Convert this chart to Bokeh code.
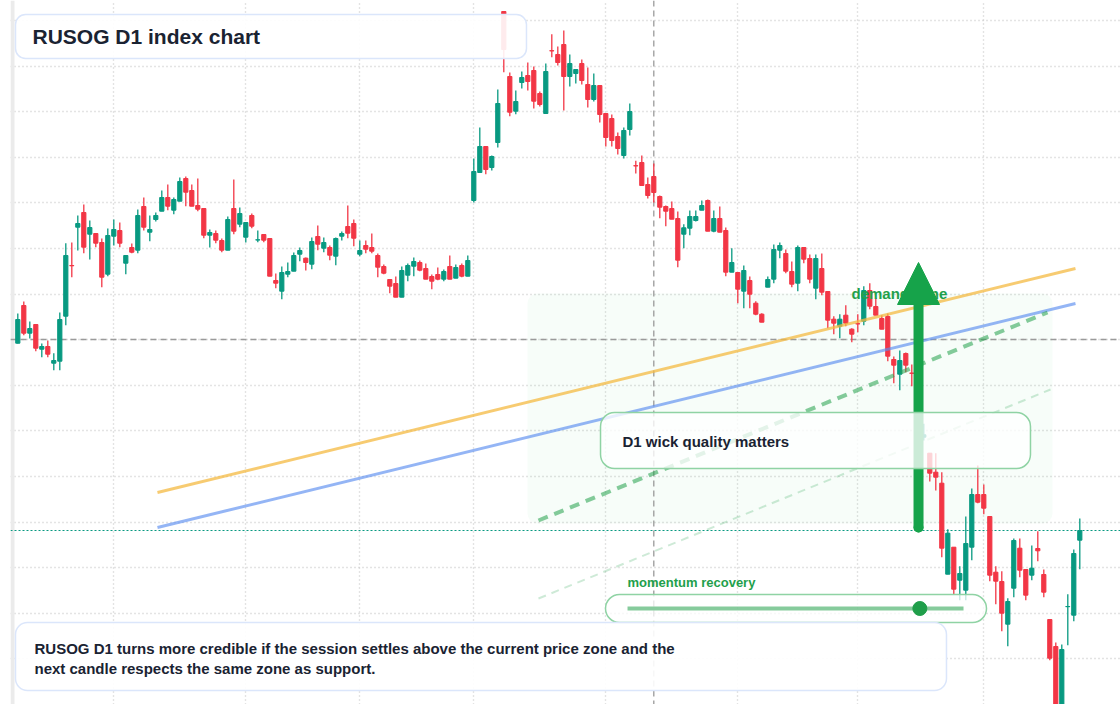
import numpy as np
from bokeh.plotting import figure
from bokeh.models import (ColumnDataSource, Range1d, FixedTicker, SingleIntervalTicker,
                          BoxAnnotation, Span, Label, Arrow, NormalHead)
from bokeh.embed import file_html
from bokeh.resources import INLINE

# ---------------- data (index points, daily candles) ----------------
opens = [361.3, 399, 371.3, 380, 355.3, 358, 341.3, 343.3, 388.3, 439,
         477.3, 492, 470.3, 471, 462, 430.3, 468.3, 474, 441.3, 457,
         454.3, 498, 472.3, 485, 493.3, 507, 494.3, 503.3, 526, 514,
         499, 496, 469.3, 471, 464, 454.3, 496, 480.3, 467.3, 489,
         464.5, 470, 466, 424, 413.3, 430.3, 433.3, 450.3, 446.3, 440.3,
         468, 456.3, 457, 448.3, 468.3, 478, 481, 450.3, 459, 457,
         449, 438, 425, 421, 407.3, 429.3, 438.3, 442, 436, 428,
         430, 425.3, 438, 426.3, 439, 428.3, 504, 532, 558, 537,
         562, 693, 628, 593.3, 622, 629, 634, 611, 591, 653.8,
         650, 660, 628, 631, 641, 620, 605, 619, 591, 586,
         568, 549, 575, 538.8, 542, 520, 528, 508, 498, 496,
         486, 470.3, 476.3, 484, 494.3, 504, 473.3, 486, 474, 432.3,
         432, 413.3, 424, 401.3, 390.3, 417.3, 425.3, 454.3, 451, 433,
         421.3, 457, 446, 416.3, 436, 413, 385.3, 378.3, 389.3, 375.3,
         380.8, 383.3, 414, 398, 386, 388, 345, 330.3, 351, 331.4,
         331, 267.3, 251.3, 232.3, 221.3, 130.3, 157.3, 124.3, 114.3, 157.3,
         210, 210, 188, 132.3, 123, 80.3, 116.3, 156.3, 135, 129.3,
         156, 130, 85, 58, -12, 97.8, 89.3, 164.3]
highs = [391, 403, 383, 380, 361, 364, 351.3, 392, 461.3, 462,
         489, 500, 484, 471, 466, 476, 485, 482, 449, 461,
         495, 507, 489, 492, 514, 520, 507, 527, 528, 520,
         526, 496, 475, 474, 466, 488, 525, 497, 482, 491,
         474, 470, 466, 431, 438, 442, 452, 457, 447, 467,
         479, 467, 459, 467, 473, 499, 485, 464, 464, 471,
         451, 440, 425, 428, 438, 441, 447, 444, 441, 430,
         437, 435, 449, 440, 441, 449, 546, 577, 558, 549,
         615, 693, 632, 614, 633, 642, 638, 613, 641, 670.3,
         658, 674, 650, 635, 645, 637, 631, 619, 591, 590,
         572, 577, 601, 543.7, 549, 527, 541, 509, 499, 503,
         493, 480.3, 494, 494, 504, 505, 494, 498, 477, 456.3,
         432, 439, 428, 403.3, 391.3, 428, 460, 462, 455, 443,
         459, 457, 450, 450, 451, 413, 388.3, 390.3, 399.3, 376.3,
         390.3, 418.3, 421.3, 406.3, 389.3, 391, 348, 354, 352, 340,
         336, 280.7, 251.3, 251.3, 232.3, 175.3, 157.3, 138.3, 188, 216,
         239, 220, 188, 138.3, 133.3, 106.3, 166, 166, 135, 159,
         173.3, 135, 85, 62, 60, 110.3, 155, 186]
lows = [361, 369.3, 366, 353.3, 347.3, 347.3, 334.3, 334.3, 379.3, 427.3,
        454, 451.3, 445, 457.3, 417.3, 428.3, 459, 457.3, 430.3, 451.3,
        451.3, 474, 463.3, 483, 493.3, 494.3, 490.3, 503.3, 498.3, 498.3,
        493.3, 466.3, 457, 461.3, 452.3, 454.3, 470.3, 477.3, 462, 476.3,
        462.3, 462.3, 428.3, 416.3, 405.3, 427.3, 433.3, 443.3, 434, 435.3,
        454.3, 452.3, 444.3, 439.3, 464, 466.3, 458.3, 448.3, 451.3, 451.3,
        427.3, 430.3, 411.3, 407.3, 407.3, 423.3, 428.3, 433.3, 425.3, 415.3,
        424.3, 423.3, 425.3, 426.3, 427.3, 428.3, 502, 532, 530.3, 534,
        557, 632.3, 588.3, 590.3, 616, 614, 596, 598, 591, 647.3,
        639, 594, 618, 621, 620, 597, 603, 582, 558, 558,
        550, 546, 569, 531, 519, 506, 502, 486.3, 478.3, 485.3,
        437.3, 456.3, 469.3, 483, 494.3, 473.3, 472.3, 472.3, 428.3, 432.3,
        401.3, 396.3, 396.3, 389.3, 382.3, 417.3, 421.3, 446.3, 431.3, 417.3,
        413.3, 441.3, 421.3, 405.3, 409.3, 376.3, 370.3, 366.3, 378.3, 362.3,
        372.3, 379.3, 395.3, 389.3, 375.3, 343.3, 321.3, 314.3, 332.3, 318.3,
        271, 264, 223, 214, 147.3, 130.3, 110.3, 104.3, 104.3, 144.3,
        201.3, 190.3, 123.3, 100.3, 73.3, 58.3, 107.3, 127.3, 104.3, 124.3,
        143.3, 107.3, 44.3, -26, -20, 59.3, 83.3, 135.3]
closes = [385, 371.3, 376, 356.3, 358, 350.3, 344, 385, 449, 438.7,
          481, 457.3, 477, 461.3, 427.3, 469, 475, 461.3, 449, 452.3,
          489, 477.3, 475, 489, 507, 498.3, 505, 523, 512.3, 498.3,
          495.3, 469.3, 472, 464.3, 454.3, 485, 473.3, 491, 482, 478.3,
          464.7, 464.3, 428.3, 421.3, 432, 433, 449, 454, 442, 463,
          460.3, 462, 449.3, 466, 471, 471.3, 466.3, 454, 455.3, 453.3,
          437.3, 431.3, 418.3, 407.3, 434, 439, 443, 434.3, 425.3, 423.3,
          425.3, 433, 425.3, 437, 428.3, 444, 533, 558, 535, 548,
          601, 655, 592.3, 603, 627, 623, 603.3, 600, 633, 653.6,
          642, 628, 641, 635, 624, 605, 619, 590, 567, 564,
          556, 574, 593, 538.6, 519, 509, 512, 497.3, 493.3, 485.3,
          444.3, 476.7, 488, 488, 499, 473.3, 486, 472.3, 432.3, 442,
          415.3, 434, 410.3, 390.3, 382.3, 425, 455, 459, 433.3, 420.3,
          457, 445.3, 425.3, 446, 412.3, 384.3, 381.3, 385.3, 381.3, 370.3,
          380.6, 414, 398.3, 389.3, 375.3, 348.3, 339.3, 344, 339.3, 331.2,
          276, 269.7, 231.3, 227.3, 156.3, 171.3, 115.3, 131, 161, 210,
          202.3, 196.3, 129.3, 123.3, 91.3, 103, 164, 134.3, 109.3, 136.3,
          153.7, 112.3, 46.3, -16, 55, 98, 151, 174]

# first trading session of each month (bar index) -> vertical grid
month_start_idx = [16, 38, 57, 76, 98, 120, 140, 161]
price_grid_step = 45.6

# drawn objects (bar index, price)
trend_upper = ([23.28, 176.28], [212, 436])
trend_lower = ([23.28, 176.28], [177, 401])
trend_support = ([86.78, 171.62], [184, 392])
trend_faint = ([86.78, 172.12], [106, 315])
crosshair_bar, crosshair_price = 106, 365
demand_zone = dict(left=84.95, right=172.45, bottom=181, top=411)
arrow_bar, arrow_from, arrow_head_base, arrow_to = 150.12, 177, 404, 442
momentum_score = 0.87

GREEN, RED = "#089981", "#f23645"
TEXT = "#1a2332"
ACCENT = "#1f9e4a"
ARROW = "#16a34a"

n = len(opens)
o = np.array(opens, float); c = np.array(closes, float)
hi = np.array(highs, float); lo = np.array(lows, float)
col = [GREEN if cc >= oo else RED for oo, cc in zip(o, c)]
src = ColumnDataSource(dict(x=np.arange(n), top=np.maximum(o, c), bottom=np.minimum(o, c),
                            high=hi, low=lo, color=col))

p = figure(width=1120, height=704, x_range=Range1d(-1.2167, 183.783), y_range=Range1d(0, 704),
           x_axis_location=None, y_axis_location=None, toolbar_location=None,
           output_backend="svg", min_border=0, min_border_left=10,
           background_fill_color="white", border_fill_color="white")
p.outline_line_color = None

p.xgrid.ticker = FixedTicker(ticks=month_start_idx)
p.ygrid.ticker = SingleIntervalTicker(interval=price_grid_step)
for g in (p.xgrid, p.ygrid):
    g.grid_line_color = "#c8c8c8"
    g.grid_line_dash = "1 3"
    g.grid_line_width = 1.4

# left rail
p.add_layout(BoxAnnotation(left=-1.2167, right=-0.55, fill_color="#ebebeb", fill_alpha=1,
                           line_color=None, level="underlay"))
# demand zone
p.add_layout(BoxAnnotation(**demand_zone, fill_color="#22c55e", fill_alpha=0.035,
                           line_color=None, level="underlay", border_radius=10))
# crosshair + last price
p.add_layout(Span(location=crosshair_bar, dimension="height", line_color="#9a9a9a",
                  line_dash="6 4", line_width=1.3, level="underlay"))
p.add_layout(Span(location=crosshair_price, dimension="width", line_color="#9a9a9a",
                  line_dash="6 4", line_width=1.3, level="underlay"))
p.add_layout(Span(location=closes[-1], dimension="width", line_color=GREEN,
                  line_dash="2 2", line_width=1.2, level="underlay"))

# candles
p.segment(x0="x", y0="low", x1="x", y1="high", line_color="color", line_width=1.3, source=src)
p.vbar(x="x", width=0.7, top="top", bottom="bottom", fill_color="color", line_color="color",
       line_width=1, source=src)

# trend lines
p.line(*trend_upper, line_color="#f4b942", line_alpha=0.75, line_width=3)
p.line(*trend_lower, line_color="#5b8def", line_alpha=0.65, line_width=3)
p.line(*trend_support, line_color="#22a04b", line_alpha=0.55, line_width=4, line_dash="10 7")
p.line(*trend_faint, line_color="#22a04b", line_alpha=0.22, line_width=2, line_dash="8 6")

# rounded foot of the arrow shaft
p.scatter([arrow_bar], [arrow_from], size=10, fill_color=ARROW, line_color=None)

FONT = "Liberation Sans"
p.add_layout(Label(x=138.95, y=411, text="demand zone", text_font=FONT, text_font_size="15px",
                   text_font_style="bold", text_color="#22a04b", text_baseline="middle"))

# arrow: shaft + head
p.add_layout(Arrow(start=None, end=None, x_start=arrow_bar, y_start=arrow_from, x_end=arrow_bar,
                   y_end=arrow_head_base + 4, line_color=ARROW, line_width=10, line_cap="round"))
p.add_layout(Arrow(end=NormalHead(size=42, fill_color=ARROW, line_color=ARROW, line_width=1),
                   x_start=arrow_bar, y_start=arrow_head_base, x_end=arrow_bar, y_end=arrow_to,
                   line_color=ARROW, line_alpha=0, line_width=1))

# title box
p.add_layout(BoxAnnotation(left=-0.383, right=84.78, bottom=646, top=690, fill_color="white",
                           fill_alpha=0.9, line_color="#dbe6fb", line_alpha=1, line_width=1.5,
                           border_radius=10))
p.add_layout(Label(x=2.45, y=668, text="RUSOG D1 index chart", text_font=FONT, text_font_size="21px",
                   text_font_style="bold", text_color=TEXT, text_baseline="middle"))

# D1 note
p.add_layout(BoxAnnotation(left=97.12, right=168.78, bottom=236, top=292, fill_color="white",
                           fill_alpha=0.78, line_color="#8fd3a4", line_alpha=1, line_width=1.5,
                           border_radius=14))
p.add_layout(Label(x=100.78, y=263, text="D1 wick quality matters", text_font=FONT,
                   text_font_size="15px", text_font_style="bold", text_color=TEXT,
                   text_baseline="middle"))

# momentum gauge
p.add_layout(Label(x=101.62, y=122, text="momentum recovery", text_font=FONT, text_font_size="13px",
                   text_font_style="bold", text_color="#22a04b", text_baseline="middle"))
p.add_layout(BoxAnnotation(left=97.95, right=161.45, bottom=82, top=110, fill_color="white",
                           fill_alpha=0.75, line_color="#8fd3a4", line_alpha=1, line_width=1.5,
                           border_radius=14))
g0, g1 = 101.62, 157.62
p.line([g0, g1], [96, 96], line_color="#22a04b", line_alpha=0.55, line_width=4, level="overlay")
p.scatter([g0 + momentum_score * (g1 - g0)], [96], size=14, fill_color=ACCENT, line_color=ACCENT,
          level="overlay")

# bottom note
p.add_layout(BoxAnnotation(left=-0.383, right=154.78, bottom=14, top=82, fill_color="white",
                           fill_alpha=0.9, line_color="#dbe6fb", line_alpha=1, line_width=1.5,
                           border_radius=12))
p.add_layout(Label(x=2.78, y=56, text="RUSOG D1 turns more credible if the session settles above the current price zone and the",
                   text_font=FONT, text_font_size="15px", text_font_style="bold", text_color=TEXT,
                   text_baseline="middle"))
p.add_layout(Label(x=2.78, y=36, text="next candle respects the same zone as support.",
                   text_font=FONT, text_font_size="15px", text_font_style="bold", text_color=TEXT,
                   text_baseline="middle"))

open("out.html", "w").write(file_html(p, INLINE))
